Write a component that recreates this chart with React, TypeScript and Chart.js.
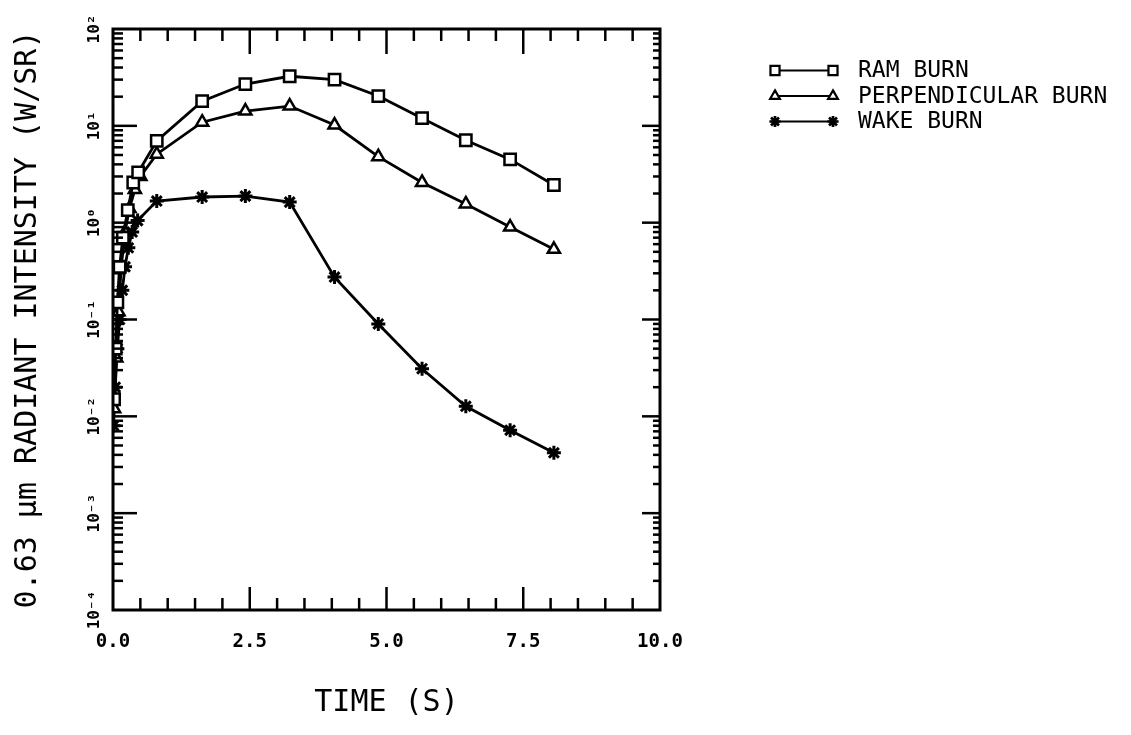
import React, { useEffect, useRef } from 'react';
import { Chart, registerables } from 'chart.js';
import { drawPoint } from 'chart.js/helpers';

Chart.register(...registerables);

// ---- data ----
const seriesLabels = ['RAM BURN', 'PERPENDICULAR BURN', 'WAKE BURN'];

const ramTime = [0.02, 0.05, 0.08, 0.12, 0.18, 0.27, 0.37, 0.46, 0.8, 1.63, 2.42, 3.23, 4.05, 4.85, 5.65, 6.45, 7.26, 8.06];
const ramValues = [0.015, 0.05, 0.15, 0.35, 0.7, 1.35, 2.6, 3.3, 7.0, 18.0, 27.0, 32.5, 30.0, 20.3, 12.0, 7.1, 4.5, 2.45];

const perpTime = [0.02, 0.06, 0.1, 0.15, 0.22, 0.3, 0.4, 0.5, 0.8, 1.63, 2.42, 3.23, 4.05, 4.85, 5.65, 6.45, 7.26, 8.06];
const perpValues = [0.012, 0.04, 0.12, 0.35, 0.8, 1.4, 2.2, 3.0, 5.1, 10.9, 14.2, 16.0, 10.2, 4.8, 2.6, 1.56, 0.9, 0.53];

const wakeTime = [0.01, 0.04, 0.08, 0.12, 0.17, 0.22, 0.28, 0.35, 0.45, 0.8, 1.63, 2.42, 3.23, 4.05, 4.85, 5.65, 6.45, 7.26, 8.06];
const wakeValues = [0.008, 0.02, 0.05, 0.1, 0.2, 0.35, 0.55, 0.8, 1.05, 1.67, 1.84, 1.88, 1.63, 0.274, 0.09, 0.031, 0.0127, 0.0072, 0.0042];

const xTickValues = [0, 2.5, 5, 7.5, 10];
const xTickLabels = ['0.0', '2.5', '5.0', '7.5', '10.0'];
const yTickValues = [1e-4, 1e-3, 1e-2, 1e-1, 1, 10, 100];
const yTickLabels = ['10⁻⁴', '10⁻³', '10⁻²', '10⁻¹', '10⁰', '10¹', '10²'];

const xTitle = 'TIME (S)';
const yTitle = '0.63 µm RADIANT INTENSITY (W/SR)';

const FONT = "'DejaVu Sans Mono', monospace";

function toPoints(t: number[], v: number[]) {
  return t.map((x, i) => ({ x, y: v[i] }));
}

const decorPlugin = {
  id: 'decor',
  afterDraw(chart: any) {
    const { ctx, chartArea: a, scales } = chart;
    const xs = scales.x;
    const ys = scales.y;
    ctx.save();
    ctx.strokeStyle = '#000';
    ctx.fillStyle = '#000';
    const line = (x1: number, y1: number, x2: number, y2: number) => {
      ctx.beginPath();
      ctx.moveTo(x1, y1);
      ctx.lineTo(x2, y2);
      ctx.stroke();
    };
    // x tick marks (bottom & top, inward)
    ctx.lineWidth = 2.5;
    for (let i = 1; i < 20; i++) {
      const v = i * 0.5;
      const px = xs.getPixelForValue(v);
      const major = i % 5 === 0;
      line(px, a.bottom, px, a.bottom - (major ? 23 : 12));
      line(px, a.top, px, a.top + (major ? 25 : 12));
    }
    // y tick marks (left & right, inward)
    for (let d = -4; d < 2; d++) {
      for (let k = 1; k < 10; k++) {
        if (d === -4 && k === 1) continue;
        const v = k * Math.pow(10, d);
        const py = ys.getPixelForValue(v);
        const major = k === 1;
        line(a.left, py, a.left + (major ? 24 : 10), py);
        line(a.right, py, a.right - (major ? 18 : 7), py);
      }
    }
    // frame
    ctx.lineWidth = 3;
    ctx.strokeRect(a.left, a.top, a.right - a.left, a.bottom - a.top);

    // y tick labels (rotated)
    ctx.font = `bold 16px ${FONT}`;
    ctx.textAlign = 'center';
    ctx.textBaseline = 'middle';
    yTickValues.forEach((v, i) => {
      const py = ys.getPixelForValue(v);
      ctx.save();
      ctx.translate(a.left - 18, py);
      ctx.rotate(-Math.PI / 2);
      ctx.fillText(yTickLabels[i], 0, 0);
      ctx.restore();
    });

    // legend
    const rowY0 = 70.5;
    const rowStep = 25.5;
    const lx1 = 775;
    const lx2 = 833;
    ctx.font = `23px ${FONT}`;
    ctx.textAlign = 'left';
    ctx.textBaseline = 'middle';
    chart.data.datasets.forEach((ds: any, i: number) => {
      const y = rowY0 + i * rowStep;
      ctx.lineWidth = 2;
      ctx.strokeStyle = '#000';
      line(lx1, y, lx2, y);
      const opts = {
        pointStyle: ds.pointStyle,
        radius: ds.pointRadius * 0.8,
        borderWidth: ds.pointBorderWidth * 0.9,
        rotation: 0,
      };
      ctx.fillStyle = ds.pointBackgroundColor;
      ctx.strokeStyle = '#000';
      ctx.lineWidth = opts.borderWidth;
      drawPoint(ctx, opts as any, lx1, y);
      drawPoint(ctx, opts as any, lx2, y);
      ctx.fillStyle = '#000';
      ctx.fillText(ds.label, 858, y + 1);
    });
    ctx.restore();
  },
};

export default function App() {
  const ref = useRef<HTMLCanvasElement>(null);
  useEffect(() => {
    if (!ref.current) return;
    const common = {
      borderColor: '#000',
      borderWidth: 2.8,
      pointBorderColor: '#000',
      pointBackgroundColor: '#fff',
      tension: 0,
      fill: false,
    };
    const chart = new Chart(ref.current, {
      type: 'line',
      data: {
        datasets: [
          { ...common, label: seriesLabels[0], data: toPoints(ramTime, ramValues), pointStyle: 'rect', pointRadius: 8, pointBorderWidth: 2.5 },
          { ...common, label: seriesLabels[1], data: toPoints(perpTime, perpValues), pointStyle: 'triangle', pointRadius: 7, pointBorderWidth: 2.5 },
          { ...common, label: seriesLabels[2], data: toPoints(wakeTime, wakeValues), pointStyle: 'star', pointRadius: 7, pointBorderWidth: 3, pointBackgroundColor: '#000' },
        ] as any,
      },
      options: {
        animation: false,
        responsive: true,
        maintainAspectRatio: false,
        layout: { padding: { top: 29, right: 471, left: 0, bottom: 0 } },
        plugins: { legend: { display: false }, tooltip: { enabled: false } },
        scales: {
          x: {
            type: 'linear',
            min: 0,
            max: 10,
            afterFit: (s: any) => { s.height = 125; },
            afterBuildTicks: (s: any) => { s.ticks = xTickValues.map((v) => ({ value: v })); },
            grid: { display: false, drawTicks: false },
            border: { display: false },
            ticks: {
              color: '#000',
              padding: 21,
              maxRotation: 0,
              font: { family: FONT, size: 19, weight: 'bold' },
              callback: (v: any) => {
                const i = xTickValues.indexOf(Number(v));
                return i >= 0 ? xTickLabels[i] : '';
              },
            },
            title: {
              display: true,
              text: xTitle,
              color: '#000',
              font: { family: FONT, size: 30 },
              padding: { top: 0, bottom: 14 },
            },
          },
          y: {
            type: 'logarithmic',
            min: 1e-4,
            max: 100,
            afterFit: (s: any) => { s.width = 113; },
            grid: { display: false, drawTicks: false },
            border: { display: false },
            ticks: { display: false },
            title: {
              display: true,
              text: yTitle,
              color: '#000',
              font: { family: FONT, size: 30 },
              padding: { top: 10, bottom: 0 },
            },
          },
        },
      } as any,
      plugins: [decorPlugin],
    });
    return () => chart.destroy();
  }, []);
  return (
    <div style={{ position: 'fixed', left: 0, top: 0, width: 1131, height: 735, background: '#fff' }}>
      <canvas ref={ref} />
    </div>
  );
}
